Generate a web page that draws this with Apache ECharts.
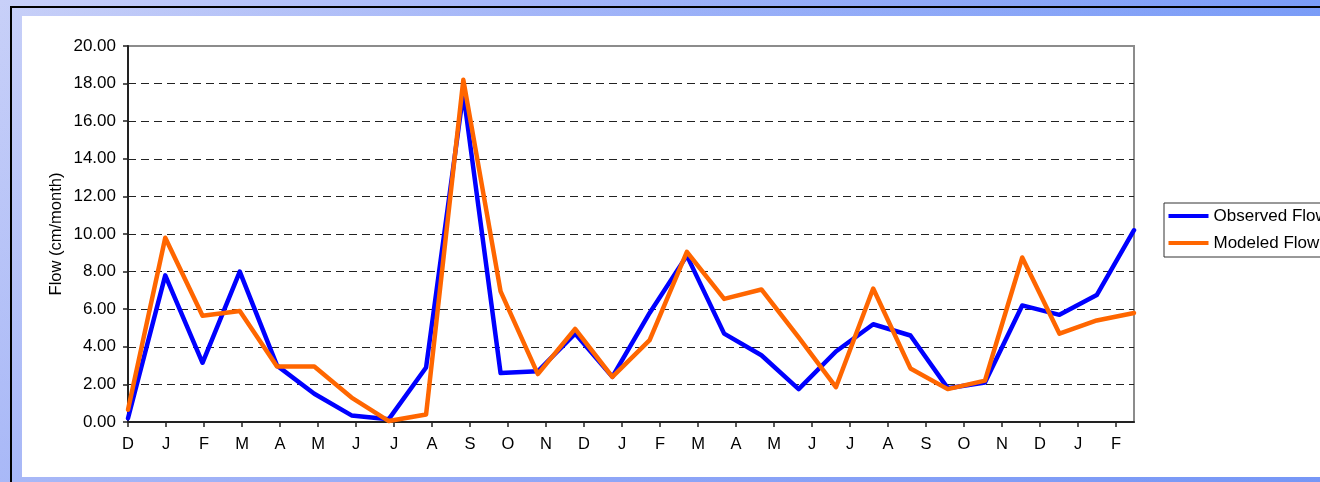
<!DOCTYPE html>
<html>
<head>
<meta charset="utf-8">
<script src="https://cdn.jsdelivr.net/npm/echarts@6/dist/echarts.min.js"></script>
<style>
  html, body { margin: 0; padding: 0; width: 1320px; height: 482px; overflow: hidden; }
  body {
    background:
      linear-gradient(to bottom, rgba(110,140,245,0) 0%, rgba(110,140,245,0.35) 100%),
      linear-gradient(to right, #c8d0f8 0%, #a4b6f8 40%, #7a9cf7 100%);
    position: relative;
  }
  #frame { position: absolute; left: 10px; top: 6px; width: 1330px; height: 500px;
           border-left: 2px solid #000; border-top: 2px solid #000; }
  #panel { position: absolute; left: 22px; top: 16px; width: 1310px; height: 461px; background: #fff; }
  #chart { position: absolute; left: 0; top: 0; width: 1320px; height: 482px; }
</style>
</head>
<body>
<div id="frame"></div>
<div id="panel"></div>
<div id="chart"></div>
<script>
// ---- data ----
const monthLabels = ['D','J','F','M','A','M','J','J','A','S','O','N','D','J','F','M','A','M','J','J','A','S','O','N','D','J','F'];
const observedFlow = [0.2, 7.8, 3.15, 8.0, 3.0, 1.5, 0.35, 0.15, 2.9, 17.5, 2.6, 2.7, 4.7, 2.4, 5.8, 8.85, 4.7, 3.55, 1.75, 3.75, 5.2, 4.6, 1.8, 2.1, 6.2, 5.7, 6.75, 10.2];
const modeledFlow  = [0.65, 9.8, 5.65, 5.9, 2.95, 2.95, 1.3, 0.05, 0.4, 18.2, 6.95, 2.55, 4.95, 2.4, 4.35, 9.05, 6.55, 7.05, 4.5, 1.85, 7.1, 2.85, 1.75, 2.2, 8.75, 4.7, 5.4, 5.8];
const seriesNames = ['Observed Flow', 'Modeled Flow'];
const yTickFormat = v => v.toFixed(2);

// ---- layout ----
const plotLeft = 128, plotTop = 46, plotWidth = 1006, plotHeight = 376;
const nPts = observedFlow.length;               // 28 monthly points
const tickPx = 38;                               // label spacing in px
const tickStep = tickPx * (nPts - 1) / plotWidth; // in point units
const tickValues = monthLabels.map((_, i) => i * tickStep);
const FONT = 'Arial, "Liberation Sans", sans-serif';

const chart = echarts.init(document.getElementById('chart'), null, { renderer: 'canvas' });
chart.setOption({
  backgroundColor: 'transparent',
  animation: false,
  textStyle: { fontFamily: FONT, color: '#000' },
  grid: {
    left: plotLeft, top: plotTop, width: plotWidth, height: plotHeight,
    show: true, borderColor: '#8c8c8c', borderWidth: 2, backgroundColor: 'transparent'
  },
  legend: {
    data: seriesNames,
    orient: 'vertical',
    left: 1164, top: 203,
    itemWidth: 40, itemHeight: 17, itemGap: 10,
    padding: [4.5, 6, 5.5, 4.5],
    backgroundColor: '#fff',
    borderColor: '#333', borderWidth: 1, borderRadius: 0,
    textStyle: { fontFamily: FONT, fontSize: 17, color: '#000' },
    icon: 'path://M0,0 L40,0 L40,4 L0,4 Z'
  },
  xAxis: {
    type: 'value', min: 0, max: nPts - 1,
    splitLine: { show: false },
    axisLine: { show: true, onZero: false, lineStyle: { color: '#222', width: 2 } },
    axisTick: { show: true, length: 5, customValues: tickValues, lineStyle: { color: '#222', width: 1.5 } },
    axisLabel: {
      customValues: tickValues, margin: 14, fontSize: 16.5, color: '#000', fontFamily: FONT,
      formatter: v => monthLabels[Math.round(v / tickStep)] || ''
    }
  },
  yAxis: {
    type: 'value', min: 0, max: 20, interval: 2,
    name: 'Flow (cm/month)', nameLocation: 'middle', nameGap: 63, nameMoveOverlap: false,
    nameTextStyle: { fontSize: 16.5, color: '#000', fontFamily: FONT },
    axisLine: { show: true, lineStyle: { color: '#222', width: 2 } },
    axisTick: { show: true, length: 5, lineStyle: { color: '#222', width: 1.5 } },
    axisLabel: { margin: 12, fontSize: 17, color: '#000', fontFamily: FONT, formatter: yTickFormat },
    splitLine: { show: true, showMinLine: false, showMaxLine: false,
                 lineStyle: { color: '#222', width: 1, type: [8, 5] } }
  },
  series: [
    { name: seriesNames[0], type: 'line', symbol: 'none', color: '#0000ff',
      lineStyle: { width: 4.5, color: '#0000ff', join: 'round', cap: 'round' },
      data: observedFlow.map((v, i) => [i, v]) },
    { name: seriesNames[1], type: 'line', symbol: 'none', color: '#ff6600',
      lineStyle: { width: 4.5, color: '#ff6600', join: 'round', cap: 'round' },
      data: modeledFlow.map((v, i) => [i, v]) }
  ]
});
</script>
</body>
</html>
